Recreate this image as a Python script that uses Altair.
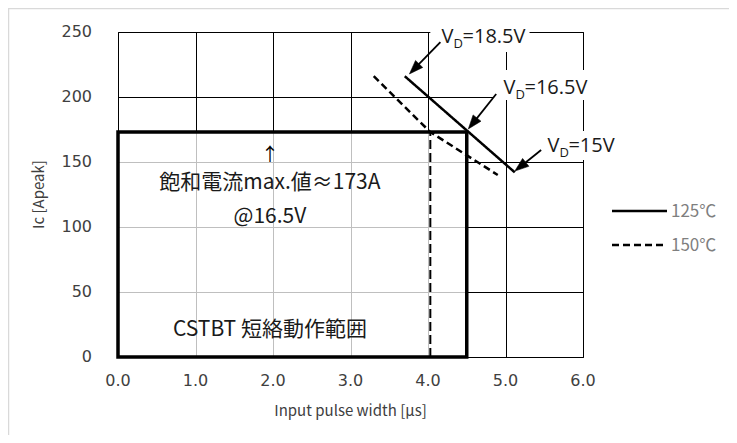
import math
import altair as alt
import pandas as pd

# ---------------- data ----------------
x_ticks = [0, 1, 2, 3, 4, 5, 6]
x_tick_labels = ["0.0", "1.0", "2.0", "3.0", "4.0", "5.0", "6.0"]
y_ticks = [0, 50, 100, 150, 200, 250]
y_tick_labels = ["0", "50", "100", "150", "200", "250"]
x_title = "Input pulse width [μs]"
y_title = "Ic [Apeak]"
temps = ["125℃", "150℃"]

x_125 = [3.70, 5.12]
y_125 = [216, 142]
x_150 = [3.30, 4.03, 4.90]
y_150 = [216, 173, 140]

sat_current = 173        # saturation current max (A)
box_x_end = 4.5          # short-circuit operating range limit (us)
dash_x = 4.03            # 150C limit

vd_rest = ["=18.5V", "=16.5V", "=15V"]
vd_x = [4.175, 4.974, 5.541]
vd_y = [241.5, 202.3, 157.7]

arrow_from_x = [4.16, 4.88, 5.46]
arrow_from_y = [242.3, 202.3, 159.2]
arrow_to_x = [3.76, 4.52, 5.12]
arrow_to_y = [217.7, 175.4, 143.0]

lbl_box_x1 = [4.03, 4.85, 5.49]
lbl_box_x2 = [5.31, 6.08, 6.53]
lbl_box_y1 = [234.6, 197.7, 151.5]
lbl_box_y2 = [258.0, 220.8, 173.8]

ann_text = ["飽和電流max.値≈173A", "@16.5V", "CSTBT 短絡動作範囲"]
ann_x = [1.96, 1.96, 1.96]
ann_y = [133.8, 107.7, 20.8]
up_arrow_x = [1.96]
up_arrow_y = [154.6]

# ---------------- layout ----------------
W, H = 465, 325
sx, sy = W / 6.0, H / 250.0
head_len = 14
TICK_FONT = "DejaVu Sans"
TITLE_FONT = "Noto Sans CJK JP"
AX_COLOR = "#404040"
FONT_JP = "Noto Sans CJK JP"

xs = alt.Scale(domain=[0, 6], nice=False, zero=False)
ys = alt.Scale(domain=[0, 250], nice=False, zero=False)

common_axis = dict(grid=True, gridColor="black", gridWidth=1, gridOpacity=1,
                   domain=False, ticks=False, labels=False, title="")
xaxis = alt.Axis(values=x_ticks, **common_axis)
yaxis = alt.Axis(values=y_ticks, **common_axis)


def X(f, axis=None):
    if axis is None:
        return alt.X(f, type="quantitative", scale=xs, axis=None)
    return alt.X(f, type="quantitative", scale=xs, axis=axis)


def Y(f, axis=None):
    if axis is None:
        return alt.Y(f, type="quantitative", scale=ys, axis=None)
    return alt.Y(f, type="quantitative", scale=ys, axis=axis)


# border of the chart area
border = alt.Chart(pd.DataFrame({"k": [0]})).mark_rect(
    fill="transparent", stroke="#d9d9d9", strokeWidth=1.5
).encode(x=alt.value(-109.5), x2=alt.value(W + 300),
         y=alt.value(-23.5), y2=alt.value(H + 300))

# thick operating-range box (carries the grid)
box_df = pd.DataFrame({"x1": [0.0], "x2": [box_x_end], "y1": [0.0], "y2": [sat_current]})
box = alt.Chart(box_df).mark_rect(
    fill="white", fillOpacity=0.75, stroke="black", strokeWidth=3.5
).encode(x=X("x1", xaxis), x2="x2:Q", y=Y("y1", yaxis), y2="y2:Q")

# tick labels (through the scales)
xt_df = pd.DataFrame({"v": x_ticks, "t": x_tick_labels})
xt = alt.Chart(xt_df).mark_text(font=TICK_FONT, fontSize=16, color=AX_COLOR,
                                align="center", baseline="middle").encode(
    x=X("v"), y=alt.value(H + 24), text="t:N")
yt_df = pd.DataFrame({"v": y_ticks, "t": y_tick_labels})
yt = alt.Chart(yt_df).mark_text(font=TICK_FONT, fontSize=16, color=AX_COLOR,
                                align="right", baseline="middle").encode(
    x=alt.value(-26), y=Y("v"), text="t:N")
xtitle = alt.Chart(pd.DataFrame({"k": [0]})).mark_text(
    font=TITLE_FONT, fontSize=15, color=AX_COLOR, align="center", baseline="middle"
).encode(x=alt.value(W / 2), y=alt.value(H + 54), text=alt.value(x_title))
ytitle = alt.Chart(pd.DataFrame({"k": [0]})).mark_text(
    font=TITLE_FONT, fontSize=15, color=AX_COLOR, align="center", baseline="middle", angle=270
).encode(x=alt.value(-79), y=alt.value(H / 2), text=alt.value(y_title))

# dashed vertical limit for 150C
vline_df = pd.DataFrame({"x": [dash_x], "y1": [0.0], "y2": [sat_current]})
vline = alt.Chart(vline_df).mark_rule(
    color="black", strokeWidth=2, strokeDash=[9, 4]
).encode(x=X("x"), y=Y("y1"), y2="y2:Q")

# curves
curve_df = pd.DataFrame({
    "x": x_125 + x_150,
    "y": y_125 + y_150,
    "temp": [temps[0]] * len(x_125) + [temps[1]] * len(x_150),
    "order": list(range(len(x_125))) + list(range(len(x_150))),
})
dash_range = [[1, 0], [7, 4]]
curves = alt.Chart(curve_df).mark_line(color="black", strokeWidth=2.5).encode(
    x=X("x"), y=Y("y"),
    detail="temp:N",
    order="order:Q",
    strokeDash=alt.StrokeDash("temp:N", scale=alt.Scale(domain=temps, range=dash_range), legend=None),
)

# white label boxes (hide grid lines under the labels)
lb_df = pd.DataFrame({"x1": lbl_box_x1, "x2": lbl_box_x2, "y1": lbl_box_y1, "y2": lbl_box_y2})
lboxes = alt.Chart(lb_df).mark_rect(fill="white").encode(
    x=X("x1"), x2="x2:Q", y=Y("y1"), y2="y2:Q")

# V_D labels
vd_df = pd.DataFrame({"x": vd_x, "y": vd_y, "rest": vd_rest})
vd_v = alt.Chart(vd_df).mark_text(align="left", baseline="alphabetic", font="Open Sans",
                                  fontSize=20, color="#1a1a1a").encode(
    x=X("x"), y=Y("y"), text=alt.value("V"))
vd_d = alt.Chart(vd_df).mark_text(align="left", baseline="alphabetic", font="Open Sans",
                                  fontSize=13, dx=12, dy=5, color="#1a1a1a").encode(
    x=X("x"), y=Y("y"), text=alt.value("D"))
vd_r = alt.Chart(vd_df).mark_text(align="left", baseline="alphabetic", font="Open Sans",
                                  fontSize=20, dx=21, color="#1a1a1a").encode(
    x=X("x"), y=Y("y"), text="rest:N")

# arrows
rows = []
for xf, yf, xt_, yt_ in zip(arrow_from_x, arrow_from_y, arrow_to_x, arrow_to_y):
    dxp = (xt_ - xf) * sx
    dyp = -(yt_ - yf) * sy
    L = math.hypot(dxp, dyp)
    ang = math.degrees(math.atan2(dxp, -dyp)) % 360
    xe = xt_ - (dxp / L) * (head_len * 0.7) / sx
    ye = yt_ + (dyp / L) * (head_len * 0.7) / sy
    rows.append({"xf": xf, "yf": yf, "xt": xt_, "yt": yt_, "xe": xe, "ye": ye, "ang": ang})
arr_df = pd.DataFrame(rows)
shafts = alt.Chart(arr_df).mark_rule(color="black", strokeWidth=1.8).encode(
    x=X("xf"), y=Y("yf"), x2="xe:Q", y2="ye:Q")
heads = alt.Chart(arr_df).mark_point(
    shape="M0,0L-0.36,1L0.36,1Z", filled=True, fill="black", stroke="black",
    strokeWidth=0.5, opacity=1, size=(2 * head_len) ** 2
).encode(x=X("xt"), y=Y("yt"), angle=alt.Angle("ang:Q", scale=None))

# annotations
ann_df = pd.DataFrame({"x": ann_x, "y": ann_y, "t": ann_text})
ann = alt.Chart(ann_df).mark_text(font=FONT_JP, fontSize=21, color="#1a1a1a",
                                  align="center", baseline="middle").encode(
    x=X("x"), y=Y("y"), text="t:N")
up_df = pd.DataFrame({"x": up_arrow_x, "y": up_arrow_y})
up = alt.Chart(up_df).mark_text(font=FONT_JP, fontSize=18, color="black",
                                align="center", baseline="middle").encode(
    x=X("x"), y=Y("y"), text=alt.value("↑"))

# manual legend
leg_y = [179, 213]
leg_layers = []
for t, d, ly in zip(temps, dash_range, leg_y):
    leg_layers.append(
        alt.Chart(pd.DataFrame({"k": [0]})).mark_rule(color="black", strokeWidth=2.5, strokeDash=d)
        .encode(x=alt.value(494), x2=alt.value(549), y=alt.value(ly)))
    leg_layers.append(
        alt.Chart(pd.DataFrame({"k": [0]})).mark_text(font=FONT_JP, fontSize=17, color="#7f7f7f",
                                                     align="left", baseline="middle")
        .encode(x=alt.value(553), y=alt.value(ly + 1), text=alt.value(t)))

chart = alt.layer(box, xt, yt, xtitle, ytitle, vline, curves, lboxes, vd_v, vd_d, vd_r,
                  shafts, heads, ann, up, *leg_layers, border).resolve_axis(
    x="independent", y="independent"
).properties(
    width=W, height=H,
    autosize=alt.AutoSizeParams(type="none"),
    padding={"left": 110, "top": 24, "right": 146, "bottom": 78},
).configure_view(stroke="black", strokeWidth=1)

chart.save("out.html", embed_options={"renderer": "svg", "actions": False})
